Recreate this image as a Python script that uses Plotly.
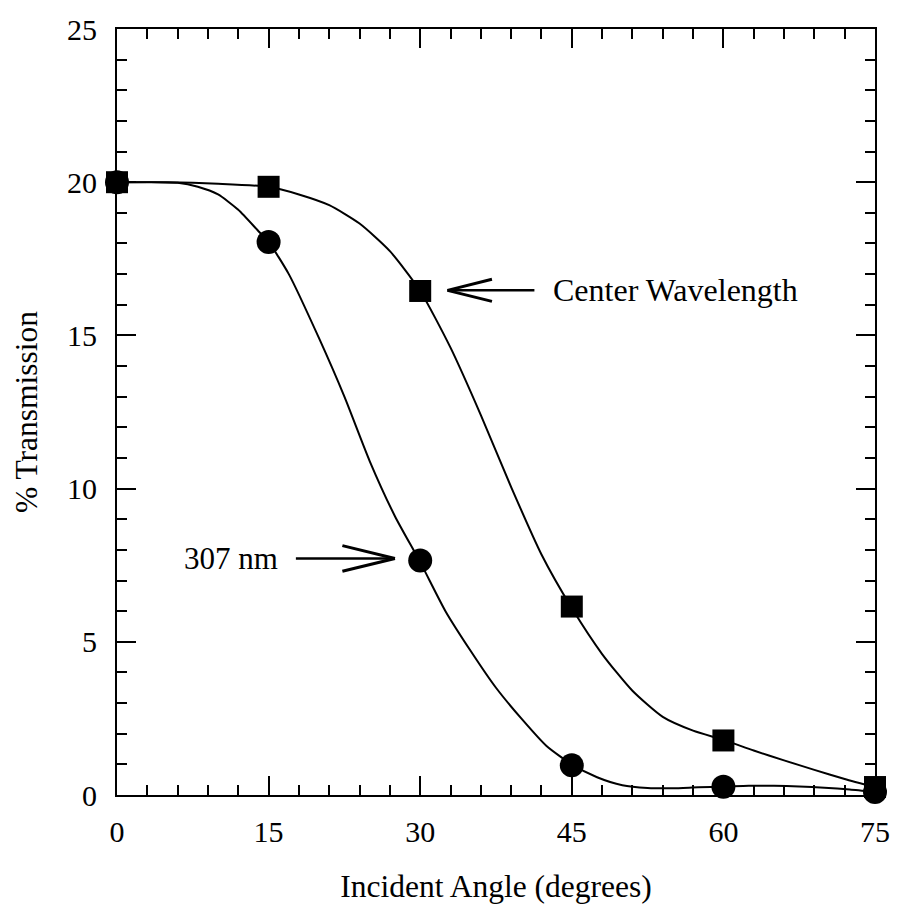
import plotly.graph_objects as go

# Measured transmission at each incident angle
angles = [0, 15, 30, 45, 60, 75]
center_wl = [20.0, 19.85, 16.45, 6.15, 1.78, 0.26]
nm307 = [20.0, 18.05, 7.65, 0.97, 0.27, 0.1]

# Smoothed fit curves through the measurements
fit_sq_x = [0, 5, 10, 15, 18, 21, 24, 27, 30, 33, 36, 39, 42, 45, 48, 51, 54, 57, 60, 63, 66, 69, 72, 75]
fit_sq_y = [20.0, 20.0, 19.95, 19.85, 19.6, 19.25, 18.65, 17.75, 16.45, 14.6, 12.4, 10.05, 7.85, 6.1, 4.6,
            3.4, 2.55, 2.1, 1.8, 1.45, 1.13, 0.82, 0.52, 0.25]
fit_ci_x = [0, 3, 6, 8, 10, 12, 14, 15, 17, 20, 22.5, 25, 27.5, 30, 32.5, 35, 37.5, 40, 42.5, 45,
            47.5, 50, 52.5, 55, 57.5, 60, 62.5, 65, 67.5, 70, 72.5, 75]
fit_ci_y = [20.0, 20.0, 19.98, 19.85, 19.6, 19.1, 18.4, 18.05, 17.0, 14.9, 13.0, 10.9, 9.1, 7.6, 6.0,
            4.7, 3.5, 2.5, 1.6, 1.0, 0.58, 0.32, 0.23, 0.22, 0.25, 0.27, 0.3, 0.3, 0.28, 0.24, 0.18, 0.1]

# Callout labels: (text, arrow tip x, tip y, tail x, head length, head half-width)
callouts = [
    ("Center Wavelength", 32.7, 16.47, 41.3, 4.4, 0.36),
    ("307 nm", 27.5, 7.72, 17.7, -5.2, 0.42),
]

FONT = "Liberation Serif"

fig = go.Figure()
fig.add_trace(go.Scatter(x=fit_sq_x, y=fit_sq_y, mode="lines", line=dict(color="black", width=2, shape="spline", smoothing=0.6),
                         hoverinfo="skip", showlegend=False))
fig.add_trace(go.Scatter(x=fit_ci_x, y=fit_ci_y, mode="lines", line=dict(color="black", width=2, shape="spline", smoothing=0.6),
                         hoverinfo="skip", showlegend=False))
fig.add_trace(go.Scatter(x=angles, y=center_wl, mode="markers", cliponaxis=False,
                         marker=dict(symbol="square", size=22, color="black"), showlegend=False))
fig.add_trace(go.Scatter(x=angles, y=nm307, mode="markers", cliponaxis=False,
                         marker=dict(symbol="circle", size=24, color="black"), showlegend=False))

for text, tx, ty, tail, hl, hw in callouts:
    fig.add_shape(type="line", x0=tx, y0=ty, x1=tail, y1=ty, line=dict(color="black", width=2.5))
    hx = tx + hl
    fig.add_shape(type="line", x0=tx, y0=ty, x1=hx, y1=ty + hw, line=dict(color="black", width=3))
    fig.add_shape(type="line", x0=tx, y0=ty, x1=hx, y1=ty - hw, line=dict(color="black", width=3))
    if tail > tx:
        fig.add_annotation(x=tail + 1.6, y=ty, text=text, showarrow=False, xanchor="left",
                           font=dict(family=FONT, size=32, color="black"))
    else:
        fig.add_annotation(x=tail - 1.6, y=ty, text=text, showarrow=False, xanchor="right",
                           font=dict(family=FONT, size=31, color="black"))

axis_common = dict(showgrid=False, zeroline=False, showline=True, linecolor="black", linewidth=2,
                   mirror="allticks", ticks="inside", ticklen=19, tickwidth=2, tickcolor="black",
                   tickfont=dict(family=FONT, size=30, color="black"))

fig.update_xaxes(range=[0, 75], tickvals=[0, 15, 30, 45, 60, 75], ticklabelstandoff=9,
                 minor=dict(dtick=3, ticks="inside", ticklen=10, tickwidth=2, tickcolor="black"),
                 title=dict(text="Incident Angle (degrees)", font=dict(family=FONT, size=31.5, color="black"), standoff=28),
                 **axis_common)
fig.update_yaxes(range=[0, 25], tickvals=[0, 5, 10, 15, 20, 25], ticklabelstandoff=12,
                 minor=dict(dtick=1, ticks="inside", ticklen=10, tickwidth=2, tickcolor="black"),
                 title=dict(text="% Transmission", font=dict(family=FONT, size=31.5, color="black"), standoff=20),
                 **axis_common)

fig.update_layout(width=902, height=911, margin=dict(l=117, r=22, t=19, b=116),
                  plot_bgcolor="white", paper_bgcolor="white")

fig.write_html("out.html")
